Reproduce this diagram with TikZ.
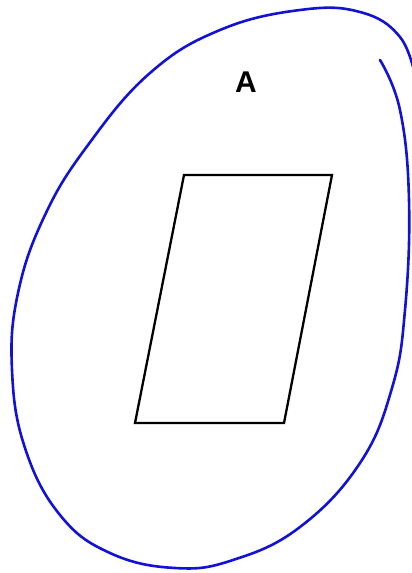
\documentclass[tikz,border=0pt]{standalone}
\usepackage{fontspec}
\setmainfont{Liberation Sans}
\definecolor{SetBlue}{RGB}{18,18,214}
\usetikzlibrary{positioning}

\begin{document}
\begin{tikzpicture}[x=1pt,y=-1pt,
setline/.style={draw=SetBlue,line width=2.6pt,line cap=round,line join=round},
figline/.style={draw=black,line width=2.3pt,line join=miter},
setlabel/.style={font=\fontsize{30}{32}\selectfont\bfseries,inner sep=0pt}]
\useasboundingbox (0,0) rectangle (412,573);
% outer set curve
\begin{scope}
\clip (0,0) rectangle (412,573);
\draw[setline] plot[smooth,tension=0.7] coordinates {
(380,60) (400,110) (409,200) (405,310) (392,388) (360,463) (300,527)
(233,560) (175,568) (110,553) (60,515) (25,448) (12,370) (18,293)
(45,215) (88,145) (150,73) (220,30) (300,10) (360,12) (400,37) (416,80)};
\end{scope}
\node[setlabel] (lblA) at (246,82) {A};
% parallelogram
\draw[figline] (184,175) coordinate (tl) -- (332,175) coordinate (tr)
  -- (284,423) coordinate (br) -- (135,423) coordinate (bl) -- cycle;
\end{tikzpicture}
\end{document}
